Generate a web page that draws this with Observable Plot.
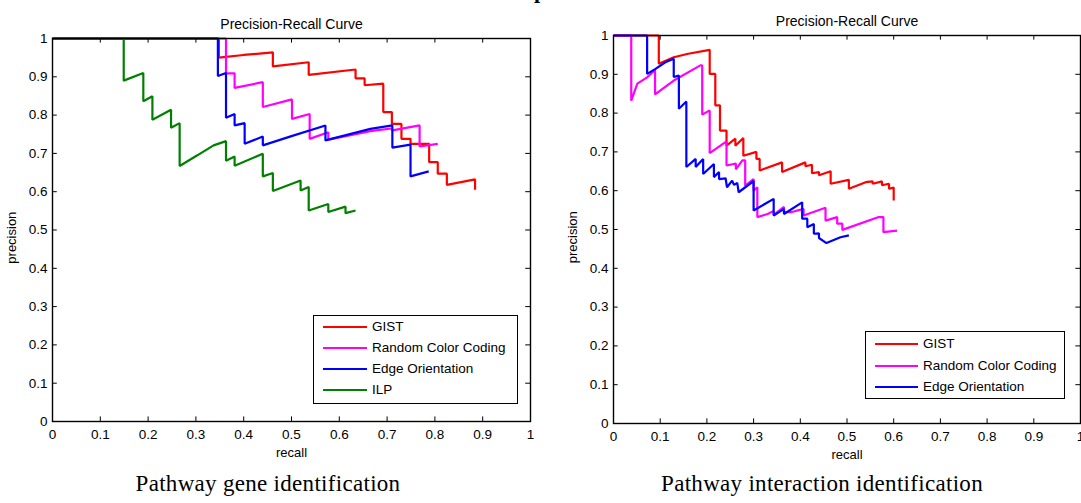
<!DOCTYPE html>
<html>
<head>
<meta charset="utf-8">
<script src="https://cdn.jsdelivr.net/npm/d3@7"></script>
<script src="https://cdn.jsdelivr.net/npm/@observablehq/plot@0.6"></script>
<style>
  html, body { margin: 0; padding: 0; background: #fff; }
  #root { position: relative; width: 1081px; height: 503px; overflow: hidden; background: #fff; font-family: "Liberation Sans", Arial, sans-serif; }
  .fig { position: absolute; top: 0; }
  .legend { position: absolute; border: 1px solid #000; background: #fff; box-sizing: border-box; }
  .legend .row { position: absolute; left: 0; font-size: 13.5px; line-height: 16px; white-space: nowrap; }
  .legend .row svg { position: absolute; top: 0; }
  .legend .row span { position: absolute; top: 0; }
  .caption { position: absolute; font-family: "Liberation Serif", "Times New Roman", serif; font-size: 23px; letter-spacing: 0.3px; white-space: nowrap; transform: translateX(-50%); }
  .frag { position: absolute; left: 534px; top: -22px; font-family: "Liberation Serif", serif; font-weight: bold; font-size: 22px; }
</style>
</head>
<body>
<div id="root">
  <div class="frag">p</div>
</div>
<script>
// ---------- data ----------
const seriesNames = ["GIST", "Random Color Coding", "Edge Orientation", "ILP"];
const seriesColors = ["#ff0000", "#ff00ff", "#0000ff", "#008000"];
const tickValues = [0, 0.1, 0.2, 0.3, 0.4, 0.5, 0.6, 0.7, 0.8, 0.9, 1];
const tickLabels = ["0", "0.1", "0.2", "0.3", "0.4", "0.5", "0.6", "0.7", "0.8", "0.9", "1"];
const plotTitle = "Precision-Recall Curve";
const xLabel = "recall";
const yLabel = "precision";
const captions = ["Pathway gene identification", "Pathway interaction identification"];

// Pathway gene identification: [recall, precision]
const geneGIST = [[0,1],[0.348,1],[0.348,0.950],[0.40,0.957],[0.461,0.964],[0.461,0.927],[0.536,0.938],[0.536,0.905],[0.634,0.919],[0.634,0.896],[0.653,0.896],[0.653,0.878],[0.692,0.882],[0.692,0.808],[0.710,0.808],[0.710,0.777],[0.730,0.777],[0.730,0.738],[0.749,0.738],[0.749,0.725],[0.788,0.725],[0.788,0.677],[0.806,0.677],[0.806,0.647],[0.825,0.647],[0.825,0.618],[0.884,0.632],[0.884,0.605]];
const geneRCC = [[0,1],[0.363,1],[0.363,0.909],[0.381,0.909],[0.381,0.871],[0.440,0.886],[0.440,0.821],[0.501,0.841],[0.501,0.790],[0.538,0.803],[0.538,0.738],[0.577,0.755],[0.577,0.736],[0.665,0.758],[0.709,0.765],[0.711,0.760],[0.768,0.773],[0.768,0.718],[0.806,0.725]];
const geneEdge = [[0,1],[0.346,1],[0.346,0.902],[0.363,0.910],[0.363,0.793],[0.381,0.803],[0.381,0.773],[0.402,0.779],[0.402,0.725],[0.440,0.744],[0.440,0.721],[0.50,0.745],[0.571,0.773],[0.571,0.734],[0.665,0.764],[0.711,0.773],[0.711,0.715],[0.749,0.723],[0.749,0.640],[0.787,0.653]];
const geneILP = [[0,1],[0.149,1],[0.149,0.890],[0.190,0.910],[0.190,0.836],[0.209,0.849],[0.209,0.788],[0.248,0.814],[0.248,0.767],[0.266,0.779],[0.266,0.667],[0.303,0.695],[0.337,0.721],[0.363,0.732],[0.363,0.681],[0.381,0.692],[0.381,0.668],[0.440,0.699],[0.440,0.640],[0.461,0.649],[0.461,0.602],[0.519,0.629],[0.519,0.603],[0.536,0.612],[0.536,0.551],[0.577,0.568],[0.577,0.547],[0.613,0.561],[0.613,0.544],[0.634,0.551]];

// Pathway interaction identification: [recall, precision]
const interGIST = [[0,1],[0.097,1],[0.097,0.927],[0.129,0.944],[0.16,0.953],[0.206,0.963],[0.206,0.901],[0.218,0.901],[0.218,0.820],[0.228,0.820],[0.228,0.755],[0.242,0.755],[0.242,0.716],[0.261,0.734],[0.261,0.716],[0.278,0.736],[0.278,0.690],[0.306,0.700],[0.306,0.682],[0.313,0.682],[0.313,0.652],[0.361,0.673],[0.361,0.648],[0.411,0.673],[0.411,0.663],[0.425,0.667],[0.425,0.645],[0.44,0.648],[0.44,0.640],[0.465,0.650],[0.465,0.618],[0.504,0.628],[0.504,0.605],[0.540,0.622],[0.555,0.624],[0.555,0.618],[0.575,0.624],[0.575,0.614],[0.590,0.618],[0.590,0.605],[0.600,0.608],[0.600,0.575]];
const interRCC = [[0,1],[0.038,1],[0.038,0.832],[0.051,0.876],[0.072,0.892],[0.089,0.911],[0.089,0.848],[0.129,0.884],[0.186,0.923],[0.190,0.923],[0.190,0.796],[0.206,0.807],[0.206,0.697],[0.242,0.727],[0.242,0.665],[0.262,0.670],[0.262,0.655],[0.276,0.678],[0.282,0.678],[0.282,0.613],[0.300,0.630],[0.300,0.600],[0.308,0.609],[0.308,0.532],[0.330,0.540],[0.343,0.548],[0.343,0.538],[0.365,0.558],[0.365,0.545],[0.382,0.545],[0.407,0.553],[0.407,0.536],[0.454,0.556],[0.454,0.523],[0.479,0.532],[0.479,0.515],[0.490,0.515],[0.490,0.499],[0.568,0.532],[0.578,0.532],[0.578,0.493],[0.607,0.497]];
const interEdge = [[0,1],[0.072,1],[0.072,0.901],[0.090,0.914],[0.111,0.931],[0.129,0.940],[0.129,0.893],[0.140,0.897],[0.140,0.811],[0.156,0.830],[0.156,0.661],[0.176,0.682],[0.176,0.661],[0.192,0.682],[0.192,0.643],[0.215,0.669],[0.215,0.635],[0.226,0.648],[0.226,0.630],[0.240,0.632],[0.243,0.609],[0.254,0.626],[0.258,0.615],[0.265,0.620],[0.268,0.596],[0.300,0.625],[0.300,0.549],[0.343,0.579],[0.343,0.536],[0.365,0.553],[0.365,0.540],[0.404,0.570],[0.404,0.528],[0.415,0.528],[0.415,0.506],[0.429,0.514],[0.429,0.489],[0.440,0.490],[0.440,0.478],[0.456,0.465],[0.486,0.480],[0.504,0.485]];

// ---------- drawing ----------
const root = document.getElementById("root");

function makePanel(seriesList, opts) {
  const marks = [];
  seriesList.forEach((s, i) => {
    marks.push(Plot.line(s, {x: d => d[0], y: d => d[1], stroke: seriesColors[i], strokeWidth: 2.2, strokeLinejoin: "miter", strokeLinecap: "butt"}));
  });
  marks.push(
    Plot.frame({stroke: "black", strokeWidth: 1.4}),
    Plot.ruleX(tickValues, {x: d => d, y1: 0, y2: 0.012, stroke: "black", strokeWidth: 1}),
    Plot.ruleX(tickValues, {x: d => d, y1: 1, y2: 0.988, stroke: "black", strokeWidth: 1}),
    Plot.ruleY(tickValues, {y: d => d, x1: 0, x2: 0.01, stroke: "black", strokeWidth: 1}),
    Plot.ruleY(tickValues, {y: d => d, x1: 1, x2: 0.99, stroke: "black", strokeWidth: 1}),
    Plot.axisX({ticks: tickValues, tickSize: 0, tickPadding: 8, tickFormat: (d, i) => tickLabels[i], label: null, fontSize: 13.5}),
    Plot.axisY({ticks: tickValues, tickSize: 0, tickPadding: 5, tickFormat: (d, i) => tickLabels[i], label: null, fontSize: 13.5}),
    Plot.text([xLabel], {frameAnchor: "bottom", dy: 35, fontSize: 13}),
    Plot.text([0.48], {y: d => d, text: () => yLabel, frameAnchor: "left", textAnchor: "middle", lineAnchor: "middle", dx: -41, rotate: -90, fontSize: 13}),
    Plot.text([plotTitle], {frameAnchor: "top", dy: -19, fontSize: 14})
  );
  const svg = Plot.plot({
    width: opts.width, height: 470,
    marginLeft: opts.ml, marginRight: opts.mr, marginTop: opts.mt, marginBottom: opts.mb,
    x: {domain: [0, 1], axis: null},
    y: {domain: [0, 1], axis: null},
    style: {fontFamily: '"Liberation Sans", Arial, sans-serif', fontSize: "13px", color: "black", background: "transparent", overflow: "visible"},
    marks
  });
  const wrap = document.createElement("div");
  wrap.className = "fig";
  wrap.style.left = opts.left + "px";
  wrap.appendChild(svg);
  root.appendChild(wrap);
}

makePanel([geneGIST, geneRCC, geneEdge, geneILP], {left: 0, width: 545, ml: 52, mr: 15, mt: 38, mb: 49});
makePanel([interGIST, interRCC, interEdge], {left: 560, width: 521, ml: 53, mr: 1, mt: 35, mb: 47});

function makeLegend(n, box, rows) {
  const lg = document.createElement("div");
  lg.className = "legend";
  lg.style.left = box.x + "px"; lg.style.top = box.y + "px";
  lg.style.width = box.w + "px"; lg.style.height = box.h + "px";
  for (let i = 0; i < n; i++) {
    const row = document.createElement("div");
    row.className = "row";
    row.style.top = (rows.y0 + i * rows.dy - 8) + "px";
    row.style.width = box.w + "px";
    row.style.height = "16px";
    const s = document.createElementNS("http://www.w3.org/2000/svg", "svg");
    s.setAttribute("width", rows.lw); s.setAttribute("height", 16);
    s.style.left = rows.lx + "px";
    const l = document.createElementNS("http://www.w3.org/2000/svg", "line");
    l.setAttribute("x1", 0); l.setAttribute("x2", rows.lw); l.setAttribute("y1", 8); l.setAttribute("y2", 8);
    l.setAttribute("stroke", seriesColors[i]); l.setAttribute("stroke-width", 1.8);
    s.appendChild(l);
    row.appendChild(s);
    const t = document.createElement("span");
    t.textContent = seriesNames[i];
    t.style.left = rows.tx + "px";
    row.appendChild(t);
    lg.appendChild(row);
  }
  root.appendChild(lg);
}
makeLegend(4, {x: 313, y: 315, w: 205, h: 89}, {y0: 11, dy: 21, lx: 9, lw: 44, tx: 58});
makeLegend(3, {x: 865, y: 331, w: 200, h: 68}, {y0: 12, dy: 21.7, lx: 9, lw: 43, tx: 57});

captions.forEach((c, i) => {
  const d = document.createElement("div");
  d.className = "caption";
  d.textContent = c;
  d.style.left = (i === 0 ? 268 : 822) + "px";
  d.style.top = "471px";
  root.appendChild(d);
});
</script>
</body>
</html>
